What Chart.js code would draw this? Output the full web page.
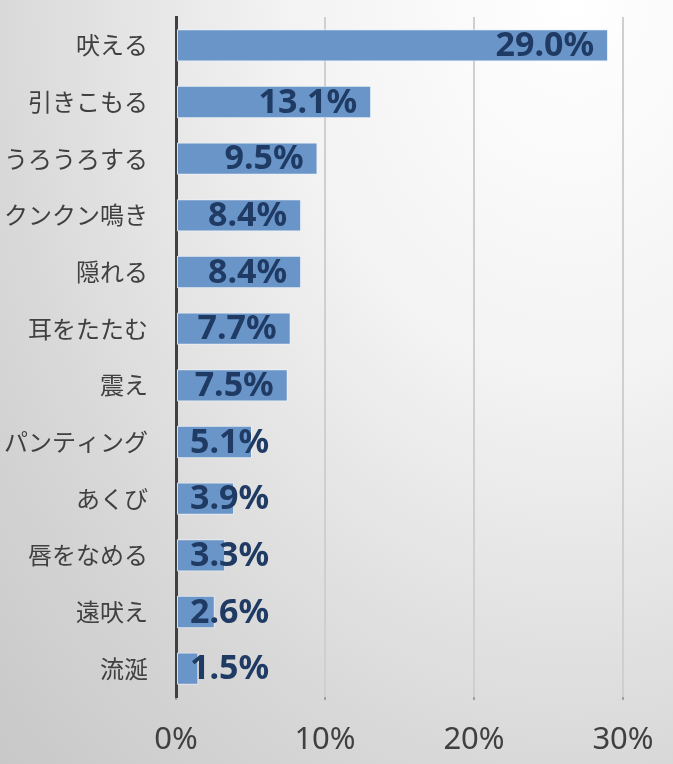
<!DOCTYPE html>
<html lang="ja">
<head>
<meta charset="utf-8">
<title>犬のストレスサイン</title>
<script src="https://cdn.jsdelivr.net/npm/chart.js@4/dist/chart.umd.min.js"></script>
<style>
  html, body { margin: 0; padding: 0; }
  body {
    width: 673px;
    height: 764px;
    overflow: hidden;
    background: radial-gradient(ellipse at 85% 0%, #ffffff 0%, #f3f3f3 35%, #d6d6d6 75%, #c8c8c8 100%);
  }
  #wrap { position: relative; width: 673px; height: 764px; }
</style>
</head>
<body>
<div id="wrap"><canvas id="chart"></canvas></div>
<script>
// データ
const categories = ["吠える", "引きこもる", "うろうろする", "クンクン鳴き", "隠れる", "耳をたたむ", "震え", "パンティング", "あくび", "唇をなめる", "遠吠え", "流涎"];
const values = [29.0, 13.1, 9.5, 8.4, 8.4, 7.7, 7.5, 5.1, 3.9, 3.3, 2.6, 1.5];
const xTicks = [0, 10, 20, 30];

const numFont = '"Noto Sans", "Open Sans", sans-serif';
const jpFont = '"Noto Sans CJK JP", sans-serif';

// バーの右端にラベル（短いバーははみ出す）
const valueLabels = {
    id: "valueLabels",
    afterDatasetsDraw(chart) {
        const ctx = chart.ctx;
        const meta = chart.getDatasetMeta(0);
        const x0 = chart.scales.x.getPixelForValue(0);
        ctx.save();
        ctx.font = "bold 34px " + numFont;
        ctx.fillStyle = "#1f3a63";
        ctx.textAlign = "right";
        ctx.textBaseline = "middle";
        meta.data.forEach((bar, i) => {
            const txt = values[i].toFixed(1) + "%";
            const w = ctx.measureText(txt).width;
            const x = Math.max(bar.x - 14, x0 + 14 + w);
            ctx.fillText(txt, x, bar.y + 1);
        });
        ctx.restore();
    }
};

new Chart(document.getElementById("chart"), {
    type: "bar",
    data: {
        labels: categories,
        datasets: [{
            data: values,
            backgroundColor: "#6a95c9",
            borderColor: "rgba(235,242,250,0.9)",
            borderWidth: 1,
            borderSkipped: false,
            categoryPercentage: 1,
            barPercentage: 0.57
        }]
    },
    options: {
        indexAxis: "y",
        responsive: true,
        maintainAspectRatio: false,
        animation: false,
        layout: { padding: { top: 17, right: 50, left: 0, bottom: 0 } },
        plugins: {
            legend: { display: false },
            tooltip: { enabled: false }
        },
        scales: {
            x: {
                min: 0,
                max: 30,
                afterBuildTicks: axis => { axis.ticks = xTicks.map(v => ({ value: v })); },
                afterFit: axis => {
                    axis.height = 67;
                    axis.paddingLeft = 0;
                    axis.paddingRight = 0;
                },
                ticks: {
                    callback: v => v + "%",
                    color: "#404040",
                    font: { family: numFont, size: 31 },
                    padding: 22
                },
                grid: {
                    color: ctx => ctx.index === 0 ? "rgba(0,0,0,0)" : "#cfcfcf",
                    lineWidth: 2,
                    tickLength: 3,
                    tickColor: "#a0a0a0"
                },
                border: { display: false }
            },
            y: {
                afterFit: axis => {
                    axis.width = 176;
                    axis.paddingTop = 0;
                    axis.paddingBottom = 0;
                },
                ticks: {
                    color: "#404040",
                    font: { family: jpFont, size: 24 },
                    padding: 28
                },
                grid: { display: false, drawTicks: false },
                border: { display: true, color: "#404040", width: 3 }
            }
        }
    },
    plugins: [valueLabels]
});
</script>
</body>
</html>
